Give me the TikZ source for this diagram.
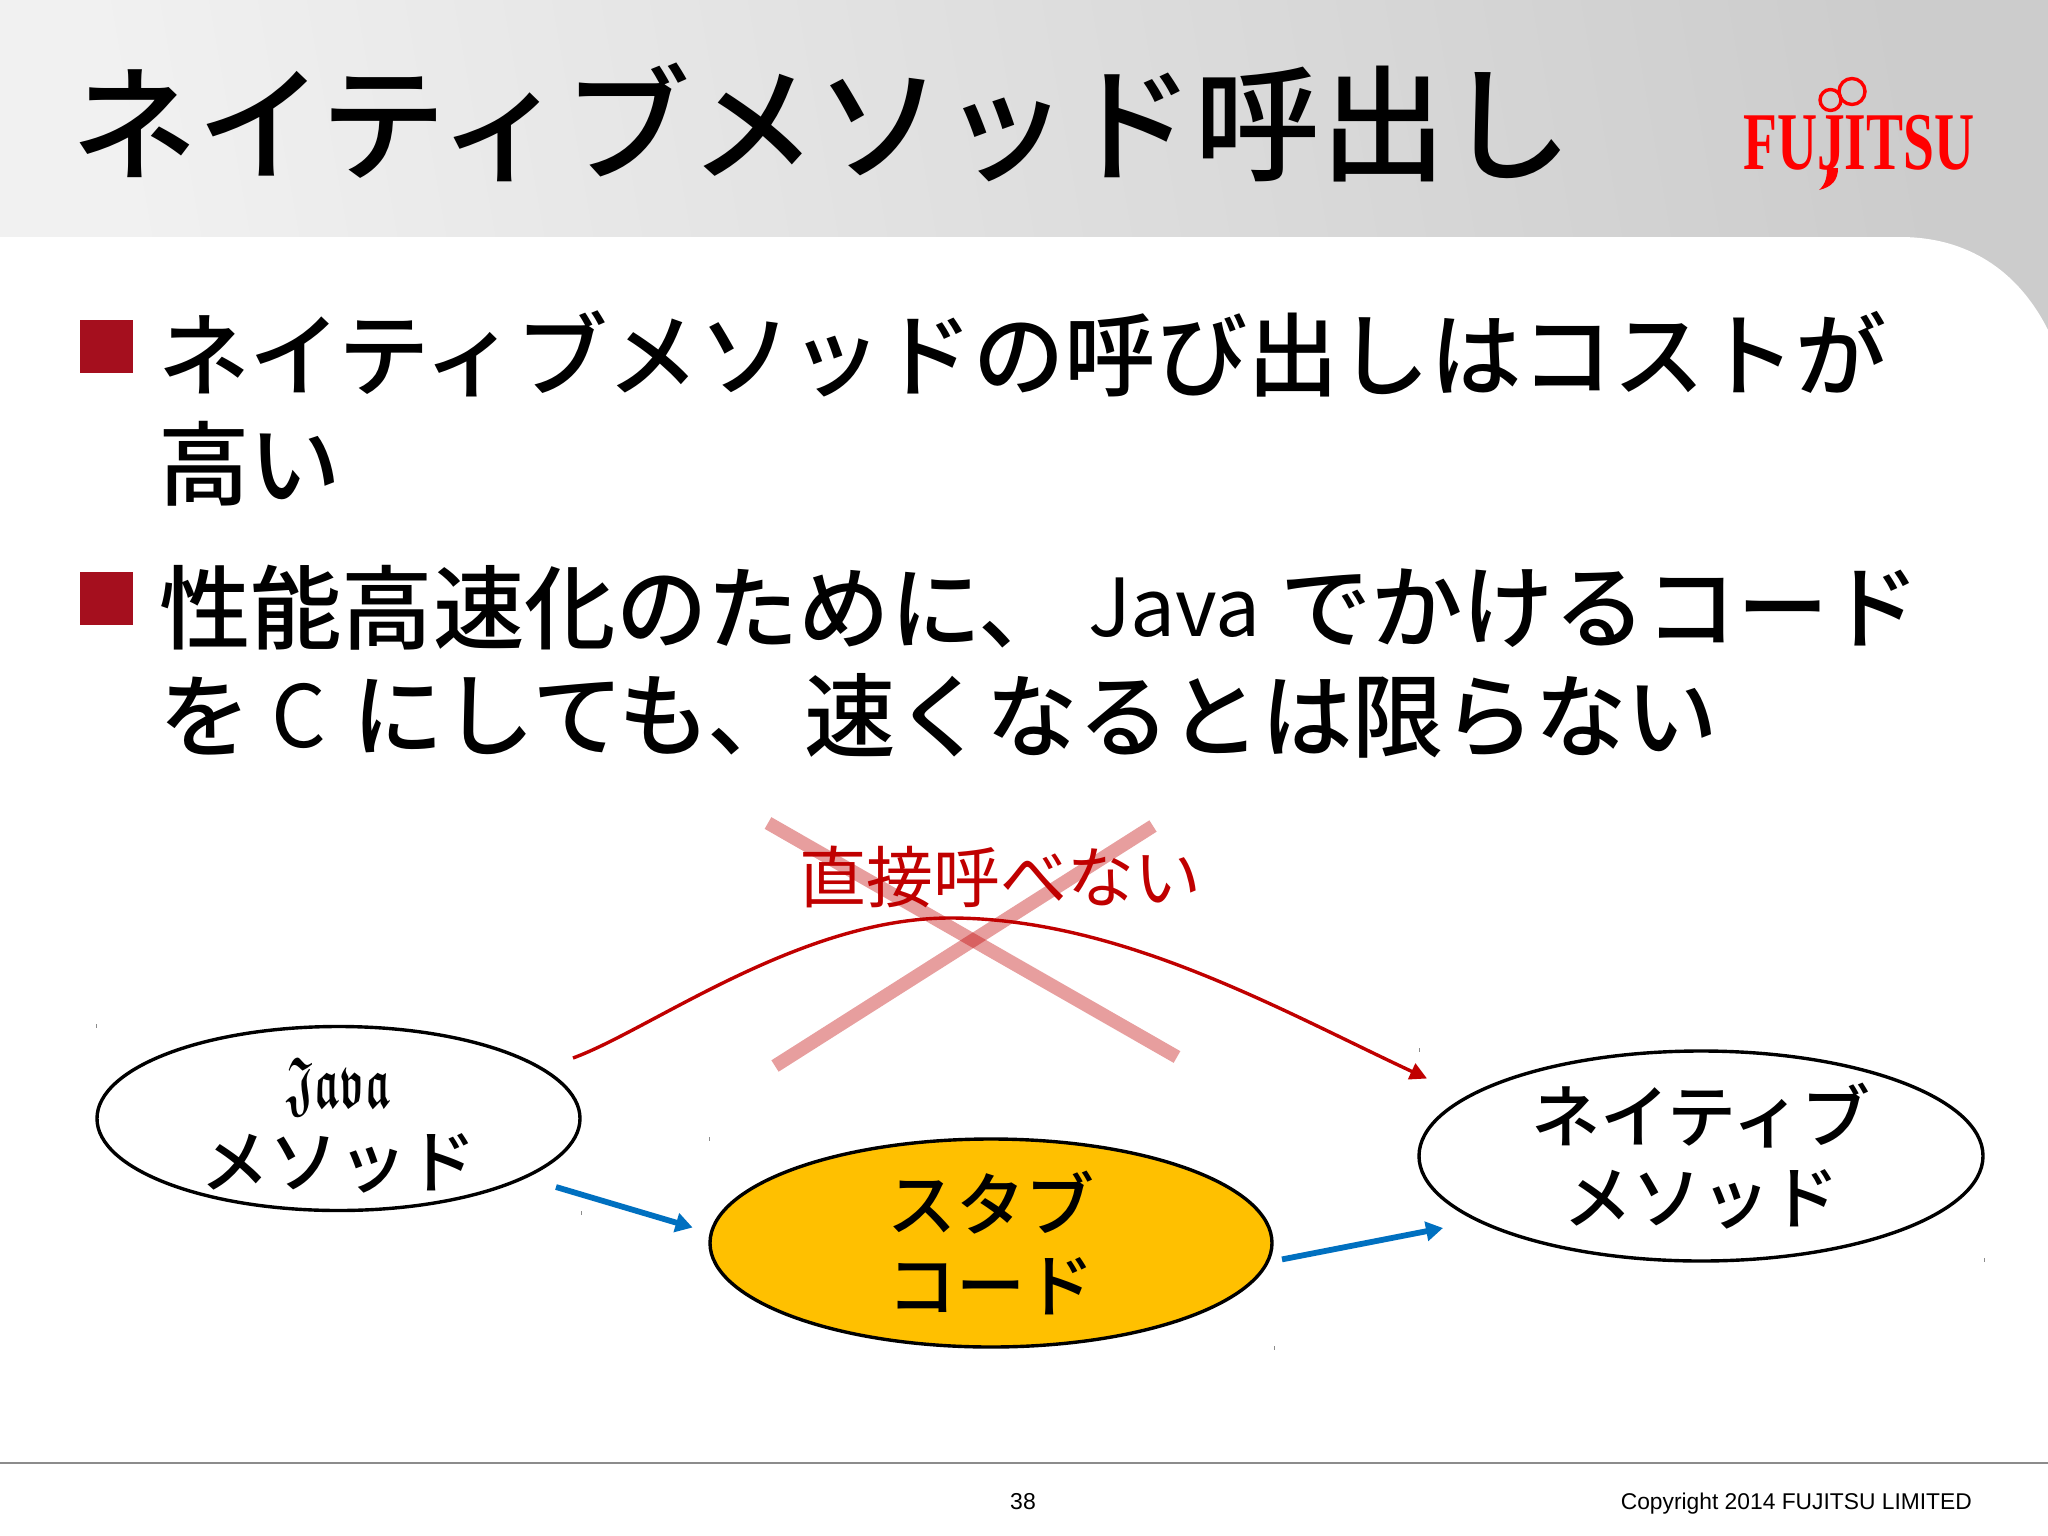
\documentclass[tikz,border=0pt]{standalone}
\usepackage{fontspec}
\usetikzlibrary{shapes.geometric,arrows.meta}
\newfontfamily\jp{Noto Sans CJK JP Medium}
\newfontfamily\jpr{Noto Sans CJK JP}
\newfontfamily\lsans{Liberation Sans}
\newfontfamily\lserif{Liberation Serif}
\font\javafrak=eufb10 at 66pt
\definecolor{bulletred}{HTML}{A50F1E}
\definecolor{redline}{HTML}{C00000}
\definecolor{blueline}{HTML}{0070C0}
\definecolor{stubfill}{HTML}{FFC000}
\definecolor{logored}{HTML}{FF0000}
\definecolor{bandl}{HTML}{F1F1F1}
\definecolor{bandm}{HTML}{EAEAEA}
\definecolor{bandr}{HTML}{CCCCCC}
\newcommand{\fs}[2]{\fontsize{#1}{#2}\selectfont}
\tikzset{
  txt/.style={inner sep=0,outer sep=0,font=\jp\fs{91.4}{108},text=black,anchor=west},
  bulletbox/.style={fill=bulletred,draw=none,minimum width=53,minimum height=53,inner sep=0,anchor=north west},
  oval/.style={ellipse,draw=black,line width=3.4,inner sep=0,outer sep=0,align=center,font=\jp\fs{69}{81}},
  bluearrow/.style={blueline,line width=5.8,-{Triangle[length=17,width=19]}},
  redarrow/.style={redline,line width=3.4,-{Triangle[length=17,width=17]}},
  crossbar/.style={redline,opacity=0.38,line width=13.5},
  handle/.style={draw=black!45,line width=0.9}
}
\begin{document}
\begin{tikzpicture}[x=1pt,y=-1pt]
\useasboundingbox (0,0) rectangle (2048,1536);
\shade[left color=bandl,middle color=bandm,right color=bandr,shading angle=100] (0,0) rectangle (2048,360);
\fill[white] (0,237) -- (1900,237) .. controls (1975,237) and (2022,278) .. (2048,330) -- (2048,1536) -- (0,1536) -- cycle;
% title
\node[txt,font=\jp\fs{126}{130}] (title) at (71,122) {ネイティブメソッド呼出し};
% logo
\node[inner sep=0,anchor=west,text=logored,font=\lserif\bfseries\fs{82}{82}] (logo) at (1743,143) {\scalebox{0.677}[1]{FUJITSU}};
\fill[logored] (1827,168) -- (1838,168) .. controls (1838,180) and (1832,187) .. (1819,190) .. controls (1826,184) and (1827,176) .. (1827,168) -- cycle;
\draw[logored,line width=3.4] (1830.5,100) circle[radius=10.5];
\draw[logored,line width=3.4] (1852,91.5) circle[radius=13];
% bullets
\node[bulletbox] (b1) at (80,320) {};
\node[bulletbox] (b2) at (80,572) {};
\node[txt] (l1) at (158,354) {ネイティブメソッドの呼び出しはコストが};
\node[txt] (l2) at (158,464) {高い};
\node[txt] (l3a) at (159,608) {性能高速化のために、};
\node[txt,font=\jpr\fs{80}{100}] (l3b) at (1088,608) {Java};
\node[txt] (l3c) at (1280,608) {でかけるコード};
\node[txt] (l4a) at (159,716) {を};
\node[txt,font=\jpr\fs{86}{100}] (l4b) at (271,716) {C};
\node[txt] (l4c) at (352,716) {にしても、};
\node[txt] (l4d) at (804,716) {速くなるとは限らない};
% ovals
\node[oval,inner sep=-40pt,minimum width=483,minimum height=184] (java) at (338.5,1118.5) {\rule{0pt}{60pt}\raisebox{-3.5pt}{\scalebox{0.64}[1.1]{\javafrak Java}}\\[3pt]メソッド};
\node[oval,fill=stubfill,minimum width=562,minimum height=208] (stub) at (991,1243) {スタブ\\コード};
\node[oval,minimum width=564,minimum height=210] (native) at (1701,1156) {ネイティブ\\メソッド};
% handles
\draw[handle] (96,1024) -- ++(0,4);
\draw[handle] (581,1211) -- ++(0,4);
\draw[handle] (709,1137) -- ++(0,4);
\draw[handle] (1274,1346) -- ++(0,4);
\draw[handle] (1419,1048) -- ++(0,4);
\draw[handle] (1984,1258) -- ++(0,4);
% label
\node[inner sep=0,text=redline,font=\jpr\fs{67}{70}] (nocall) at (1000,877) {直接呼べない};
% arrows
\coordinate (rs) at (573,1058);
\coordinate (rm) at (950,918);
\coordinate (re) at (1427,1078.5);
\draw[redarrow] (rs) .. controls (650,1030) and (800,918) .. (rm) .. controls (1120,918) and (1280,1010) .. (re);
\coordinate (bs1) at (556,1187);
\coordinate (be1) at (692.6,1227.5);
\coordinate (bs2) at (1282,1259.4);
\coordinate (be2) at (1443,1228);
\draw[bluearrow] (bs1) -- (be1);
\draw[bluearrow] (bs2) -- (be2);
% cross
\coordinate (c1) at (768,823);
\coordinate (c2) at (1177,1057);
\coordinate (c3) at (775,1066);
\coordinate (c4) at (1153,826);
\draw[crossbar] (c1) -- (c2);
\draw[crossbar] (c3) -- (c4);
% footer
\draw[black!45,line width=2.5] (0,1463) -- (2048,1463);
\node[inner sep=0,font=\lsans\fs{23}{26}] (page) at (1023,1502) {38};
\node[inner sep=0,anchor=east,font=\lsans\fs{22.8}{26}] (copy) at (1972,1504) {Copyright 2014 FUJITSU LIMITED};
\end{tikzpicture}
\end{document}
